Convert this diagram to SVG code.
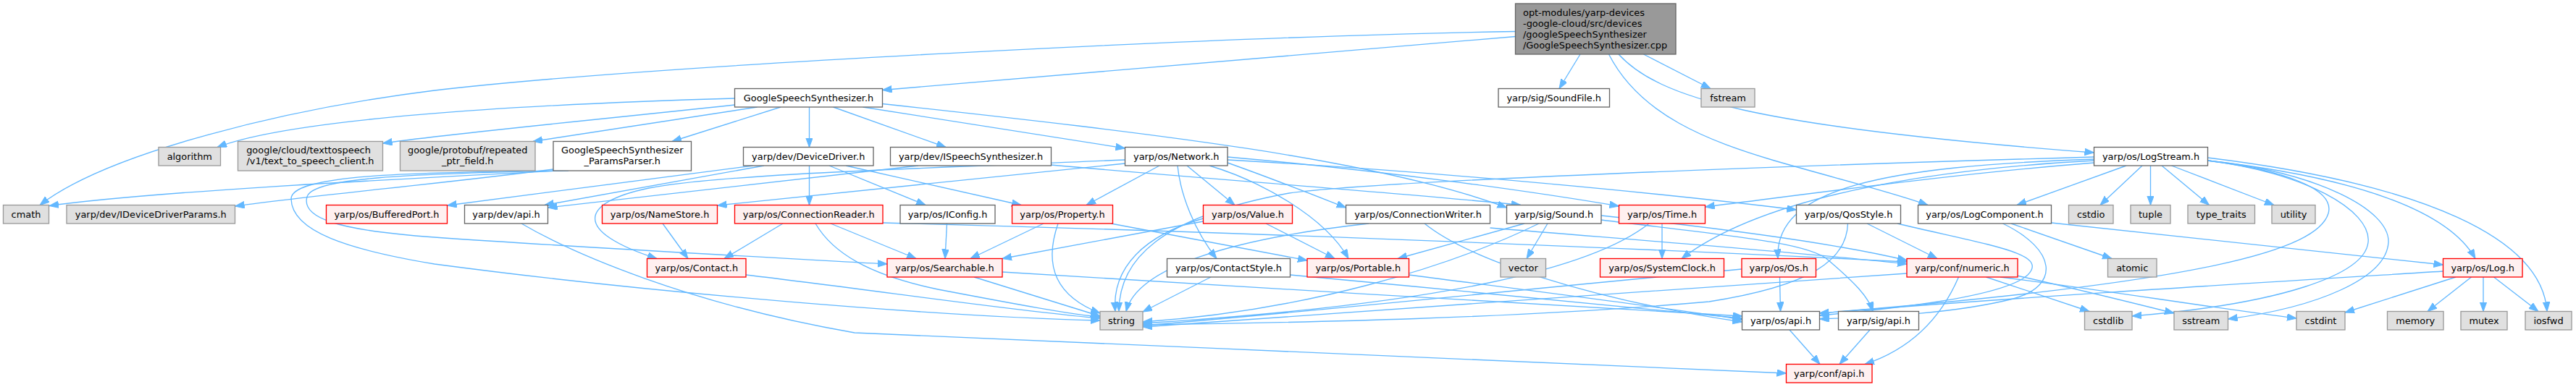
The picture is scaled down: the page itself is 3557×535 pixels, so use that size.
<svg xmlns="http://www.w3.org/2000/svg" width="3557" height="535" viewBox="0 0 3557 535">
<style>
text{font-family:"DejaVu Sans","Liberation Sans",sans-serif;font-size:12.9px;fill:#000;text-anchor:middle}
.w rect{fill:#fff;stroke:#666;stroke-width:1.33}
.g rect{fill:#e0e0e0;stroke:#999;stroke-width:1.33}
.r rect{fill:#fff0f0;stroke:#f00;stroke-width:1.33}
.root rect{fill:#999;stroke:#666;stroke-width:1.33}
.root text{text-anchor:start}
#edges path{fill:none;stroke:#63b8ff;stroke-width:1.33;marker-end:url(#a)}
</style>
<defs>
<marker id="a" markerWidth="15" markerHeight="11" refX="13" refY="4.8" orient="auto" markerUnits="userSpaceOnUse"><path d="M0,0 L13,4.8 L0,9.6 z" fill="#63b8ff" stroke="#63b8ff" stroke-width="1"/></marker>
</defs>
<rect width="3557" height="535" fill="#fff"/>
<g id="edges">
<path d="M2092.5,43.5 C1700,50 900,90 600,125 C400,150 150,210 55,283.5"/>
<path d="M2092.5,50.5 L1218.5,124.5"/>
<path d="M2182,75 L2153,122.5"/>
<path d="M2269.5,75 L2362,122.5"/>
<path d="M2235,75 C2290,135 2420,175 2891.5,211"/>
<path d="M2221.5,75 C2265,160 2360,195 2450,222 C2540,248 2610,265 2662,283.5"/>
<path d="M1014.5,136 C700,145 400,165 300,203.5"/>
<path d="M1014.5,145 C800,168 620,185 528.5,198"/>
<path d="M1045.5,148 L736,195.5"/>
<path d="M1078,148 L928,195.5"/>
<path d="M1117.5,148 L1117.5,203.5"/>
<path d="M1150.5,148 L1306,203.5"/>
<path d="M1191.5,148 L1553.5,205"/>
<path d="M1218.5,143.5 C1600,185 1900,220 2080.5,287"/>
<path d="M764,234 C600,255 450,268 324.5,285"/>
<path d="M770,236 C500,250 200,266 68,284.5"/>
<path d="M785,236 C560,240 432,246 424,272 C416,300 460,318 600,328 C800,342 1100,358 1225,365"/>
<path d="M778,236 C560,238 402,242 402,275 C403,320 480,345 600,365 C900,405 1300,438 1519,443"/>
<path d="M1040,229 L617.5,284"/>
<path d="M1055,229 L752,283.5"/>
<path d="M1117.5,229 L1117.5,283.5"/>
<path d="M1145,229 L1278,283.5"/>
<path d="M1168,229 L1410,283.5"/>
<path d="M1268,229 L756.5,287"/>
<path d="M1451,228 C1700,250 1950,268 2100,283.5"/>
<path d="M1553.5,226 L990.5,284"/>
<path d="M1553.5,221 C1300,232 1000,240 896,260 C800,280 790,320 907,357.5"/>
<path d="M1601,229 L1500,283.5"/>
<path d="M1626,229 C1630,270 1650,320 1680,357.5"/>
<path d="M1639,229 L1705,283.5"/>
<path d="M1670,229 C1740,250 1830,300 1862,357.5"/>
<path d="M1695,221 C2000,238 2300,268 2480.5,290"/>
<path d="M1695,217 C1900,235 2100,262 2235.5,285"/>
<path d="M1695,225 C1760,248 1820,272 1858.5,287"/>
<path d="M1661.5,306 L1384,357.5"/>
<path d="M1661.5,302 C1580,325 1535,370 1540,430.5"/>
<path d="M1748,309 L1843,357.5"/>
<path d="M1441,309 L1340,357.5"/>
<path d="M1461,309 C1440,370 1460,410 1519,433"/>
<path d="M1534,309 L1805,360"/>
<path d="M1307.5,309 L1305,357.5"/>
<path d="M1081,309 L1000,357.5"/>
<path d="M1147,309 L1265,357.5"/>
<path d="M1126,309 C1150,350 1200,380 1295,400 C1400,420 1480,435 1519,438"/>
<path d="M1219,308 C1700,320 2300,345 2633,362"/>
<path d="M915,309 L950,357.5"/>
<path d="M1030,380 C1200,400 1400,430 1519,440"/>
<path d="M1345,383 L1519,437"/>
<path d="M1384,376 C1700,395 2100,420 2405.5,437"/>
<path d="M1672,383 L1578,431"/>
<path d="M1781.5,380 C2000,400 2250,425 2405.5,440"/>
<path d="M1945,380 C2100,400 2300,425 2405.5,442"/>
<path d="M1890,309 C1700,330 1570,370 1555,430.5"/>
<path d="M2057.5,315 C2300,335 2500,350 2633,365"/>
<path d="M1967,309 C2030,360 2200,415 2405.5,445"/>
<path d="M2105,309 L1930,357.5"/>
<path d="M2125,309 C2000,370 1800,430 1578,445"/>
<path d="M2137,309 L2108,357.5"/>
<path d="M2211,304 C2380,325 2500,335 2525,360 C2560,390 2580,410 2586,430.5"/>
<path d="M2211,298 C2400,318 2550,340 2633,360"/>
<path d="M2295,309 L2295,357.5"/>
<path d="M2277,309 C2200,370 2000,420 1578,447"/>
<path d="M2578,309 L2675,357.5"/>
<path d="M2620,309 C2750,340 2830,350 2800,380 C2765,412 2600,428 2512.5,436"/>
<path d="M2551.5,309 C2550,360 2500,395 2360,417 C2100,440 1800,446 1578,449"/>
<path d="M2777,309 L2916,357.5"/>
<path d="M2765.5,309 C2840,345 2845,395 2780,413 C2700,433 2600,438 2512.5,441"/>
<path d="M2832.5,308 L3373.5,366"/>
<path d="M2457.5,383 L2458.5,430.5"/>
<path d="M2405,372 C2100,400 1800,432 1578,450"/>
<path d="M2704.5,383 C2680,440 2640,482 2575,503.5"/>
<path d="M2742.5,383 L2885,430.5"/>
<path d="M2762,383 C2900,400 3050,425 3171,440"/>
<path d="M2785,381 C2870,400 2950,420 3002,433"/>
<path d="M2633,378 C2300,400 1900,430 1578,452"/>
<path d="M2471,456 L2513,503.5"/>
<path d="M2582,456 L2540,503.5"/>
<path d="M720,309 C790,350 950,420 1180,460 C1600,478 2100,500 2466.5,516"/>
<path d="M3412.5,383 L3352,430.5"/>
<path d="M3429,383 L3429,430.5"/>
<path d="M3443.5,383 L3505,430.5"/>
<path d="M3391,383 L3238,432"/>
<path d="M3373.5,375 C3100,392 2800,410 2512.5,433"/>
<path d="M2936,229 L2785,283.5"/>
<path d="M2958,229 L2900,283.5"/>
<path d="M2969.5,229 L2969.5,283.5"/>
<path d="M2985,229 L3050.5,283.5"/>
<path d="M2998.5,229 L3140,283.5"/>
<path d="M3048.5,222 C3250,245 3380,290 3418,357.5"/>
<path d="M3048.5,218 C3350,255 3510,330 3517,430.5"/>
<path d="M3048.5,222 C3200,238 3300,290 3298,335 C3295,385 3200,425 3076.5,441"/>
<path d="M3048.5,222 C3180,238 3275,290 3270,335 C3265,380 3150,420 2944,437"/>
<path d="M3048.5,222 C3150,235 3225,260 3215,295 C3200,345 3050,390 2512.5,433"/>
<path d="M2891.5,217 C2500,228 1900,250 1780,267 C1600,300 1545,360 1545,430.5"/>
<path d="M2891.5,220 C2600,230 2450,260 2455,357.5"/>
<path d="M2891.5,222 C2650,235 2430,275 2322,357.5"/>
<path d="M2891.5,225 C2700,240 2500,268 2354.5,286"/>
</g>
<g id="n_root" class="root"><rect x="2092.5" y="5" width="221.5" height="70"/><text x="2103" y="21.5">opt-modules/yarp-devices</text><text x="2103" y="36.5">-google-cloud/src/devices</text><text x="2103" y="51.5">/googleSpeechSynthesizer</text><text x="2103" y="66.5">/GoogleSpeechSynthesizer.cpp</text></g>
<g id="n_gss" class="w"><rect x="1014.5" y="122.5" width="204" height="25.5"/><text x="1116.5" y="139.8">GoogleSpeechSynthesizer.h</text></g>
<g id="n_soundfile" class="w"><rect x="2069" y="122.5" width="153.5" height="25.5"/><text x="2145.75" y="139.8">yarp/sig/SoundFile.h</text></g>
<g id="n_fstream" class="g"><rect x="2349" y="122.5" width="74" height="25.5"/><text x="2386" y="139.8">fstream</text></g>
<g id="n_algorithm" class="g"><rect x="219" y="203.5" width="85.5" height="25.5"/><text x="261.75" y="220.9">algorithm</text></g>
<g id="n_tts" class="g"><rect x="328.5" y="195.5" width="200" height="40.5"/><text x="426" y="212">google/cloud/texttospeech</text><text x="428.5" y="226.7">/v1/text_to_speech_client.h</text></g>
<g id="n_protobuf" class="g"><rect x="552.5" y="195.5" width="186.5" height="40.5"/><text x="645.75" y="212">google/protobuf/repeated</text><text x="645.75" y="226.7">_ptr_field.h</text></g>
<g id="n_params" class="w"><rect x="764" y="195.5" width="190.5" height="40.5"/><text x="859.25" y="212">GoogleSpeechSynthesizer</text><text x="859.25" y="226.7">_ParamsParser.h</text></g>
<g id="n_devicedriver" class="w"><rect x="1026.5" y="203.5" width="179.5" height="25.5"/><text x="1116.25" y="220.9">yarp/dev/DeviceDriver.h</text></g>
<g id="n_ispeech" class="w"><rect x="1229.5" y="203.5" width="222" height="25.5"/><text x="1340.5" y="220.9">yarp/dev/ISpeechSynthesizer.h</text></g>
<g id="n_network" class="w"><rect x="1553.5" y="203.5" width="141.5" height="25.5"/><text x="1624.25" y="220.9">yarp/os/Network.h</text></g>
<g id="n_logstream" class="w"><rect x="2891.5" y="203.5" width="157" height="25.5"/><text x="2970" y="220.9">yarp/os/LogStream.h</text></g>
<g id="n_cmath" class="g"><rect x="4.5" y="283.5" width="63" height="25.5"/><text x="36" y="300.9">cmath</text></g>
<g id="n_iddp" class="g"><rect x="92" y="283.5" width="232.5" height="25.5"/><text x="208.25" y="300.9">yarp/dev/IDeviceDriverParams.h</text></g>
<g id="n_bufferedport" class="r"><rect x="450.5" y="283.5" width="167" height="25.5"/><text x="534" y="300.9">yarp/os/BufferedPort.h</text></g>
<g id="n_devapi" class="w"><rect x="641.5" y="283.5" width="115" height="25.5"/><text x="699" y="300.9">yarp/dev/api.h</text></g>
<g id="n_namestore" class="r"><rect x="831.5" y="283.5" width="159" height="25.5"/><text x="911" y="300.9">yarp/os/NameStore.h</text></g>
<g id="n_connreader" class="r"><rect x="1014.5" y="283.5" width="204.5" height="25.5"/><text x="1116.75" y="300.9">yarp/os/ConnectionReader.h</text></g>
<g id="n_iconfig" class="w"><rect x="1243" y="283.5" width="131" height="25.5"/><text x="1308.5" y="300.9">yarp/os/IConfig.h</text></g>
<g id="n_property" class="r"><rect x="1397.5" y="283.5" width="139" height="25.5"/><text x="1467" y="300.9">yarp/os/Property.h</text></g>
<g id="n_value" class="r"><rect x="1661.5" y="283.5" width="123" height="25.5"/><text x="1723" y="300.9">yarp/os/Value.h</text></g>
<g id="n_connwriter" class="w"><rect x="1858.5" y="283.5" width="199" height="25.5"/><text x="1958" y="300.9">yarp/os/ConnectionWriter.h</text></g>
<g id="n_sound" class="w"><rect x="2080.5" y="283.5" width="130.5" height="25.5"/><text x="2145.75" y="300.9">yarp/sig/Sound.h</text></g>
<g id="n_time" class="r"><rect x="2235.5" y="283.5" width="119" height="25.5"/><text x="2295" y="300.9">yarp/os/Time.h</text></g>
<g id="n_qosstyle" class="w"><rect x="2480.5" y="283.5" width="144" height="25.5"/><text x="2552.5" y="300.9">yarp/os/QosStyle.h</text></g>
<g id="n_logcomponent" class="w"><rect x="2648.5" y="283.5" width="184" height="25.5"/><text x="2740.5" y="300.9">yarp/os/LogComponent.h</text></g>
<g id="n_cstdio" class="g"><rect x="2856.5" y="283.5" width="61.5" height="25.5"/><text x="2887.25" y="300.9">cstdio</text></g>
<g id="n_tuple" class="g"><rect x="2942" y="283.5" width="55" height="25.5"/><text x="2969.5" y="300.9">tuple</text></g>
<g id="n_typetraits" class="g"><rect x="3021" y="283.5" width="92.5" height="25.5"/><text x="3067.25" y="300.9">type_traits</text></g>
<g id="n_utility" class="g"><rect x="3137" y="283.5" width="60" height="25.5"/><text x="3167" y="300.9">utility</text></g>
<g id="n_contact" class="r"><rect x="893.5" y="357.5" width="136.5" height="25.5"/><text x="961.75" y="374.9">yarp/os/Contact.h</text></g>
<g id="n_searchable" class="r"><rect x="1225" y="357.5" width="159" height="25.5"/><text x="1304.5" y="374.9">yarp/os/Searchable.h</text></g>
<g id="n_contactstyle" class="w"><rect x="1611.5" y="357.5" width="170" height="25.5"/><text x="1696.5" y="374.9">yarp/os/ContactStyle.h</text></g>
<g id="n_portable" class="r"><rect x="1805" y="357.5" width="140.5" height="25.5"/><text x="1875.25" y="374.9">yarp/os/Portable.h</text></g>
<g id="n_vector" class="g"><rect x="2072" y="357.5" width="62.5" height="25.5"/><text x="2103.25" y="374.9">vector</text></g>
<g id="n_systemclock" class="r"><rect x="2209.5" y="357.5" width="171" height="25.5"/><text x="2295" y="374.9">yarp/os/SystemClock.h</text></g>
<g id="n_os" class="r"><rect x="2405" y="357.5" width="102.5" height="25.5"/><text x="2456.25" y="374.9">yarp/os/Os.h</text></g>
<g id="n_numeric" class="r"><rect x="2633" y="357.5" width="153" height="25.5"/><text x="2709.5" y="374.9">yarp/conf/numeric.h</text></g>
<g id="n_atomic" class="g"><rect x="2910.5" y="357.5" width="67.5" height="25.5"/><text x="2944.25" y="374.9">atomic</text></g>
<g id="n_log" class="r"><rect x="3373.5" y="357.5" width="109.5" height="25.5"/><text x="3428.25" y="374.9">yarp/os/Log.h</text></g>
<g id="n_string" class="g"><rect x="1519" y="430.5" width="59" height="25.5"/><text x="1548.5" y="447.9">string</text></g>
<g id="n_osapi" class="w"><rect x="2405.5" y="430.5" width="107" height="25.5"/><text x="2459" y="447.9">yarp/os/api.h</text></g>
<g id="n_sigapi" class="w"><rect x="2538.5" y="430.5" width="111" height="25.5"/><text x="2594" y="447.9">yarp/sig/api.h</text></g>
<g id="n_cstdlib" class="g"><rect x="2878.5" y="430.5" width="65.5" height="25.5"/><text x="2911.25" y="447.9">cstdlib</text></g>
<g id="n_sstream" class="g"><rect x="3002" y="430.5" width="74.5" height="25.5"/><text x="3039.25" y="447.9">sstream</text></g>
<g id="n_cstdint" class="g"><rect x="3171" y="430.5" width="67" height="25.5"/><text x="3204.5" y="447.9">cstdint</text></g>
<g id="n_memory" class="g"><rect x="3296.5" y="430.5" width="77.5" height="25.5"/><text x="3335.25" y="447.9">memory</text></g>
<g id="n_mutex" class="g"><rect x="3398" y="430.5" width="64" height="25.5"/><text x="3430" y="447.9">mutex</text></g>
<g id="n_iosfwd" class="g"><rect x="3487" y="430.5" width="64" height="25.5"/><text x="3519" y="447.9">iosfwd</text></g>
<g id="n_confapi" class="r"><rect x="2466.5" y="503.5" width="118.5" height="25.5"/><text x="2525.75" y="520.9">yarp/conf/api.h</text></g>
</svg>
